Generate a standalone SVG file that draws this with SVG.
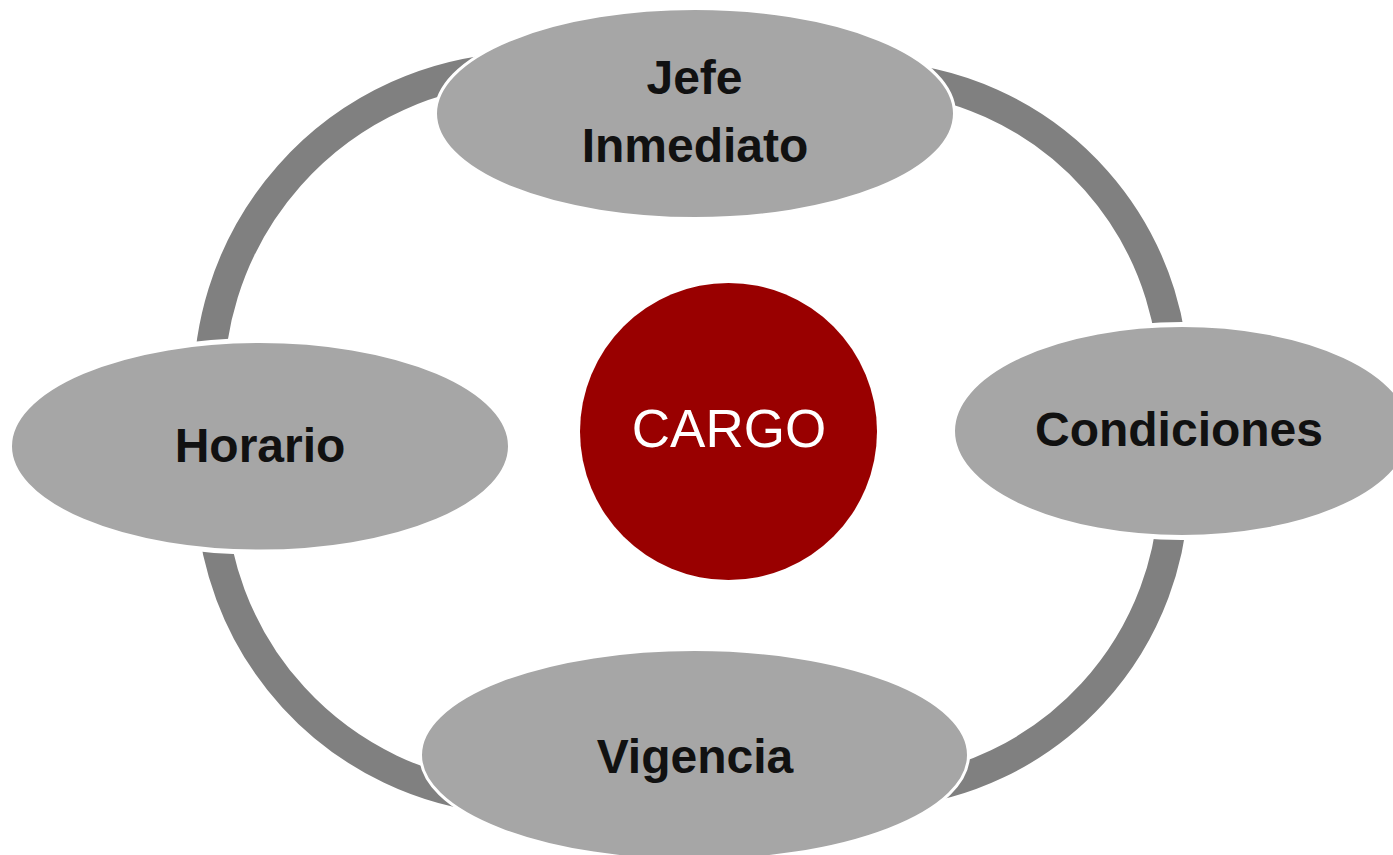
<svg xmlns="http://www.w3.org/2000/svg" width="1393" height="855" viewBox="0 0 1393 855">
  <style>
    .arc { fill: none; stroke: #808080; stroke-linecap: butt; }
    .node { fill: #a6a6a6; stroke: #ffffff; }
    .lbl { font-family: "Liberation Sans", Arial, sans-serif; font-weight: bold; font-size: 48px; fill: #111111; text-anchor: middle; }
    .center-lbl { font-family: "Liberation Sans", Arial, sans-serif; font-size: 53px; fill: #ffffff; text-anchor: middle; }
  </style>
  <rect width="1393" height="855" fill="#ffffff"/>
  <g id="connectors">
    <path class="arc" stroke-width="30.5" d="M 209.97 415.91 A 320.25 320.25 0 0 1 517.82 67.95"/>
    <path class="arc" stroke-width="30" d="M 874.82 76.19 A 310 310 0 0 1 1172.82 413.02"/>
    <path class="arc" stroke-width="30" d="M 1174 484 A 310 310 0 0 1 891.02 792.82"/>
    <path class="arc" stroke-width="30" d="M 499.0 798.8 A 316 316 0 0 1 210.5 484"/>
  </g>
  <g id="node-jefe">
    <ellipse class="node" stroke-width="3" cx="695" cy="113.5" rx="259.5" ry="105"/>
    <text class="lbl" x="694.5" y="94">Jefe</text>
    <text class="lbl" x="695" y="162">Inmediato</text>
  </g>
  <g id="node-horario">
    <ellipse class="node" stroke-width="5" cx="260" cy="446.3" rx="250.5" ry="105.8"/>
    <text class="lbl" x="260" y="462">Horario</text>
  </g>
  <g id="node-condiciones">
    <ellipse class="node" stroke-width="5" cx="1182" cy="431" rx="229.5" ry="106.5"/>
    <text class="lbl" x="1179" y="446">Condiciones</text>
  </g>
  <g id="node-vigencia">
    <ellipse class="node" stroke-width="3" cx="694.5" cy="755" rx="274" ry="105.5"/>
    <text class="lbl" x="695" y="773">Vigencia</text>
  </g>
  <g id="node-cargo">
    <circle cx="728.5" cy="431.5" r="148.5" fill="#990000"/>
    <text class="center-lbl" x="729" y="447">CARGO</text>
  </g>
</svg>
